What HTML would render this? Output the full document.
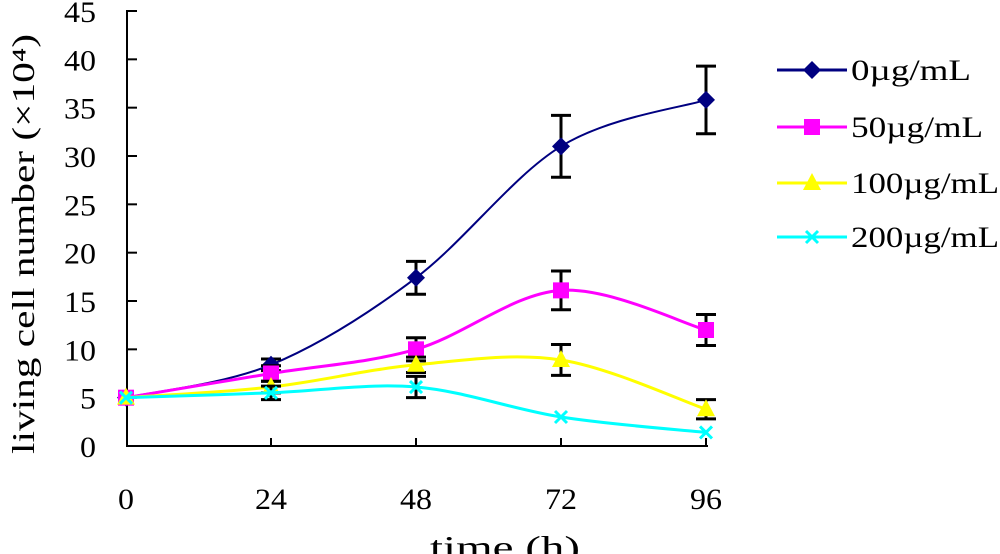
<!DOCTYPE html>
<html><head><meta charset="utf-8"><style>
body{margin:0;background:#fff;width:1000px;height:554px;overflow:hidden}
svg{display:block}
text{font-family:"Liberation Serif",serif;fill:#000}
</style></head><body>
<svg id="chart" width="1000" height="554"></svg>
<script>
const times=[0,24,48,72,96];
const yTicks=[0,5,10,15,20,25,30,35,40,45];
const seriesNames=["0µg/mL","50µg/mL","100µg/mL","200µg/mL"];
const s0=[5,8.4,17.4,31,35.8];
const e0=[0.3,0.6,1.7,3.2,3.5];
const s50=[5,7.5,10,16.1,12];
const e50=[0.3,0.8,1.2,2,1.6];
const s100=[5,6.1,8.4,8.9,3.8];
const e100=[0.3,0.6,0.8,1.6,1];
const s200=[5,5.5,6.1,3,1.4];
const e200=[0.3,0.7,1.1,0.3,0.2];
const colors=["#000080","#ff00ff","#ffff00","#00ffff"];
const X=t=>126+t*(580/96), Y=v=>446-v*(435/45);
const svg=document.getElementById('chart'),NS="http://www.w3.org/2000/svg";
function mk(tag,attrs,parent){const e=document.createElementNS(NS,tag);for(const k in attrs)e.setAttribute(k,attrs[k]);(parent||svg).appendChild(e);return e;}
const ax=mk('g',{});


mk('line',{x1:127,y1:10,x2:127,y2:447,stroke:'#000','stroke-width':2},ax);
mk('line',{x1:126,y1:446,x2:708,y2:446,stroke:'#000','stroke-width':2},ax);
yTicks.forEach(v=>{mk('line',{x1:127,y1:Y(v),x2:137,y2:Y(v),stroke:'#000','stroke-width':2},ax);
const s=String(v);
const t=mk('text',{x:96,y:Y(v)+11,'font-size':30,'text-anchor':'end',textLength:s.length*16,lengthAdjust:'spacingAndGlyphs'},ax);t.textContent=s;

});
times.forEach(v=>{if(v>0)mk('line',{x1:X(v),y1:446,x2:X(v),y2:438,stroke:'#000','stroke-width':2},ax);
const s=String(v);
const t=mk('text',{x:X(v),y:509,'font-size':30,'text-anchor':'middle',textLength:s.length*16,lengthAdjust:'spacingAndGlyphs'},ax);t.textContent=s;

});
const yt=mk('text',{x:0,y:0,'font-size':32,'text-anchor':'middle',textLength:420,lengthAdjust:'spacingAndGlyphs',transform:'translate(34,244) rotate(-90)'});
yt.textContent='living cell number (×10⁴)';


const xt=mk('text',{x:505,y:558,'font-size':32,'text-anchor':'middle',textLength:150,lengthAdjust:'spacingAndGlyphs'});
xt.textContent='time (h)';


function smooth(pts){let d=`M${pts[0][0]},${pts[0][1]}`;for(let i=0;i<pts.length-1;i++){const p0=pts[Math.max(0,i-1)],p1=pts[i],p2=pts[i+1],p3=pts[Math.min(pts.length-1,i+2)];
d+=` C${p1[0]+(p2[0]-p0[0])/6},${p1[1]+(p2[1]-p0[1])/6} ${p2[0]-(p3[0]-p1[0])/6},${p2[1]-(p3[1]-p1[1])/6} ${p2[0]},${p2[1]}`;}return d;}
function marker(i,x,y,g){const c=colors[i];
if(i==0)mk('polygon',{points:`${x},${y-9} ${x+9},${y} ${x},${y+9} ${x-9},${y}`,fill:c},g);
else if(i==1)mk('rect',{x:x-8,y:y-8,width:16,height:16,fill:c},g);
else if(i==2)mk('polygon',{points:`${x},${y-10} ${x+9},${y+7} ${x-9},${y+7}`,fill:c},g);
else{mk('path',{d:`M${x-6},${y-6}L${x+6},${y+6}M${x+6},${y-6}L${x-6},${y+6}`,stroke:c,'stroke-width':3},g);}}
const all=[[s0,e0],[s50,e50],[s100,e100],[s200,e200]];
const slugs=['0','50','100','200'];
all.forEach(([s,e],i)=>{
const g=mk('g',{});


const pts=s.map((v,j)=>[X(times[j]),Y(v)]);
mk('path',{d:smooth(pts),fill:'none',stroke:colors[i],'stroke-width':i==0?2:3},g);
s.forEach((v,j)=>{const x=X(times[j]);
if(e[j]>0.35){mk('path',{d:`M${x},${Y(v+e[j])}V${Y(v-e[j])}M${x-10},${Y(v+e[j])}H${x+10}M${x-10},${Y(v-e[j])}H${x+10}`,stroke:'#000','stroke-width':3,fill:'none'},g);}
marker(i,x,Y(v),g);});
});
const lg=mk('g',{});


const lw=[120,132,148,148];
[70,127,183,237].forEach((y,i)=>{
const e=mk('g',{},lg);


mk('line',{x1:777,y1:y,x2:847,y2:y,stroke:colors[i],'stroke-width':3},e);
marker(i,812,y,e);
const t=mk('text',{x:851,y:y+10,'font-size':30,textLength:lw[i],lengthAdjust:'spacingAndGlyphs'},e);t.textContent=seriesNames[i];});
</script>
</body></html>
